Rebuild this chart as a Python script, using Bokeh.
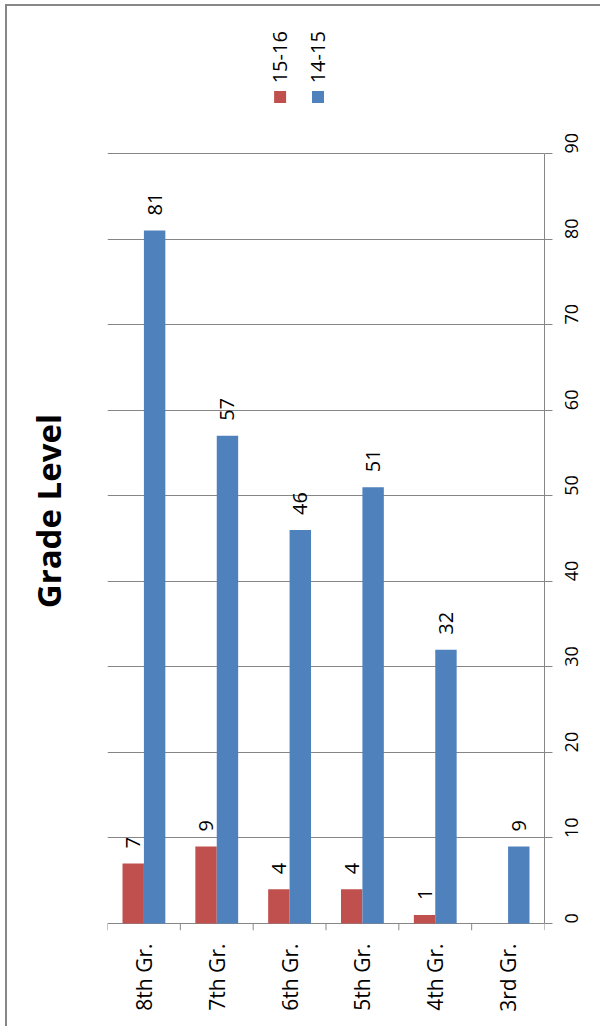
import math
from bokeh.plotting import figure
from bokeh.layouts import row
from bokeh.models import (ColumnDataSource, FactorRange, Range1d, LinearAxis,
                          CategoricalAxis, FixedTicker, Grid)
from bokeh.transform import dodge
from bokeh.core.properties import value
from bokeh.embed import file_html
from bokeh.resources import INLINE

# ---------------- data ----------------
grades = ["8th Gr.", "7th Gr.", "6th Gr.", "5th Gr.", "4th Gr.", "3rd Gr."]
s1516 = [7, 9, 4, 4, 1, 0]
s1415 = [81, 57, 46, 51, 32, 9]
series_names = ["15-16", "14-15"]
value_ticks = [0, 10, 20, 30, 40, 50, 60, 70, 80, 90]
title_text = "Grade Level"

# ---------------- style ----------------
RED = "#C0504D"
BLUE = "#4F81BD"
GRAY = "#868686"
FONT = "Open Sans"
BAR_W = 0.294
DODGE = BAR_W / 2
PX_PER_UNIT = 770 / 90.0
TICK_LEN = 7 / PX_PER_UNIT

# ---------------- title panel (rotated title text) ----------------
tp = figure(width=100, height=1020, x_range=Range1d(0, 100), y_range=Range1d(0, 1020),
            x_axis_location=None, y_axis_location=None,
            toolbar_location=None, output_backend="svg", min_border=0)
tp.xgrid.visible = False
tp.ygrid.visible = False
tp.outline_line_color = None
tp.text(x=[40.5], y=[463], text=[title_text], angle=math.pi / 2,
        text_align="center", text_baseline="middle",
        text_font=value(FONT), text_font_size="33px", text_font_style="bold",
        text_color="black")

# ---------------- main chart ----------------
p = figure(width=493, height=1020,
           x_range=FactorRange(*grades),
           y_range=Range1d(-TICK_LEN, 917 / PX_PER_UNIT),
           x_axis_location=None, y_axis_location=None,
           toolbar_location=None, output_backend="svg",
           min_border_left=0, min_border_right=56,
           min_border_top=0, min_border_bottom=96)
p.xgrid.visible = False
p.ygrid.visible = False
p.outline_line_color = None
p.background_fill_color = "white"
p.border_fill_color = "white"

# gridlines (the 0 line is the category axis line)
p.add_layout(Grid(dimension=1, ticker=FixedTicker(ticks=value_ticks),
                  grid_line_color=GRAY, grid_line_width=1))

# category boundary tick marks
bounds = list(range(len(grades) + 1))
p.segment(x0=bounds, y0=[0] * len(bounds), x1=bounds, y1=[-TICK_LEN] * len(bounds),
          line_color=GRAY, line_width=1)

# bars
src = ColumnDataSource(dict(grade=grades, s1516=s1516, s1415=s1415))
p.vbar(x=dodge("grade", -DODGE, range=p.x_range), top="s1516", width=BAR_W,
       source=src, fill_color=RED, line_color=None)
p.vbar(x=dodge("grade", DODGE, range=p.x_range), top="s1415", width=BAR_W,
       source=src, fill_color=BLUE, line_color=None)

# data labels
def label_source(vals):
    keep = [(g, v) for g, v in zip(grades, vals) if v]
    return ColumnDataSource(dict(grade=[k[0] for k in keep],
                                 val=[k[1] for k in keep],
                                 txt=[str(k[1]) for k in keep]))

for vals, off in ((s1516, -DODGE), (s1415, DODGE)):
    p.text(x=dodge("grade", off, range=p.x_range), y="val", text="txt",
           source=label_source(vals), angle=math.pi / 2,
           text_align="left", text_baseline="middle", y_offset=-15,
           text_font=value(FONT), text_font_size="20px", text_color="black")

# legend (rotated, drawn by hand)
leg_x = [2.37, 2.89]
leg_colors = [RED, BLUE]
p.scatter(x=leg_x, y=[96.6, 96.6], marker="square", size=12,
          fill_color=leg_colors, line_color=None)
p.text(x=leg_x, y=[98.2, 98.2], text=series_names, angle=math.pi / 2,
       text_align="left", text_baseline="middle",
       text_font=value(FONT), text_font_size="20px", text_color="black")

cat_axis = CategoricalAxis(axis_line_color=None, major_tick_line_color=None,
                           major_tick_in=0, major_tick_out=0,
                           major_label_orientation=math.pi / 2,
                           major_label_standoff=13,
                           major_label_text_font=FONT,
                           major_label_text_font_size="21px",
                           major_label_text_color="black")
p.add_layout(cat_axis, "below")

# value axis on the right
y_axis = LinearAxis(ticker=FixedTicker(ticks=value_ticks), bounds=(0, 90),
                    major_tick_in=0, major_tick_out=8,
                    minor_tick_line_color=None,
                    axis_line_color=GRAY, major_tick_line_color=GRAY,
                    major_label_orientation=math.pi / 2,
                    major_label_standoff=19,
                    major_label_text_font=FONT,
                    major_label_text_font_size="18px",
                    major_label_text_color="black")
p.add_layout(y_axis, "right")

layout = row(tp, p, spacing=0)
layout.styles = {"margin-left": "5px", "margin-top": "4px",
                 "border-left": "2px solid #878787", "border-top": "2px solid #878787"}

open("out.html", "w").write(file_html(layout, INLINE, title="Grade Level"))
